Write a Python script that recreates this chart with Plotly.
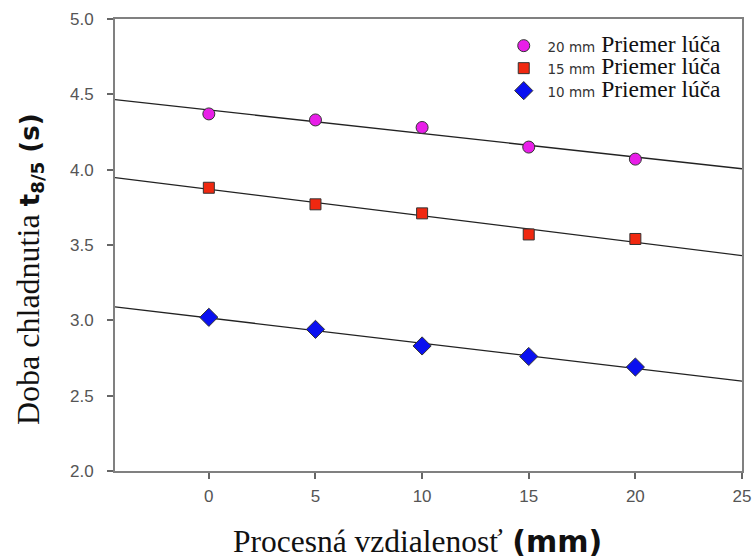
import numpy as np
import plotly.graph_objects as go

x = [0, 5, 10, 15, 20]
y_20mm = [4.37, 4.33, 4.28, 4.15, 4.07]
y_15mm = [3.88, 3.77, 3.71, 3.57, 3.54]
y_10mm = [3.02, 2.94, 2.83, 2.76, 2.69]
x_range = [-4.4, 25]
y_range = [2.0, 5.0]
x_ticks = [0, 5, 10, 15, 20, 25]
y_ticks = [2.0, 2.5, 3.0, 3.5, 4.0, 4.5, 5.0]

series = [
    ("20 mm", y_20mm, "circle", "#e81ee8", 12),
    ("15 mm", y_15mm, "square", "#f02810", 11),
    ("10 mm", y_10mm, "diamond", "#0a10f0", 14),
]

fig = go.Figure()
# regression lines
for name, ys, sym, col, sz in series:
    k, b = np.polyfit(x, ys, 1)
    xs = np.array(x_range)
    fig.add_trace(go.Scatter(x=xs, y=k * xs + b, mode="lines",
                             line=dict(color="#222222", width=1.3),
                             showlegend=False, hoverinfo="skip"))
for name, ys, sym, col, sz in series:
    fig.add_trace(go.Scatter(
        x=x, y=ys, mode="markers",
        marker=dict(symbol=sym, color=col, size=sz,
                    line=dict(color="#333333", width=1)),
        name=('&nbsp;<span style="font-family:DejaVu Sans;font-size:13.5px;color:#333">'
              + name + '</span><span style="font-family:Liberation Serif;font-size:23.5px;color:#111">'
              ' Priemer lúča</span>'),
    ))

serif = "Liberation Serif"
fig.update_layout(
    width=753, height=558,
    margin=dict(l=115, r=11, t=19, b=87),
    paper_bgcolor="white", plot_bgcolor="white",
    showlegend=True,
    legend=dict(x=0.62, y=0.977, xanchor="left", yanchor="top",
                font=dict(family=serif, size=15, color="#111"),
                bgcolor="rgba(0,0,0,0)", tracegroupgap=0, itemwidth=30),
    xaxis=dict(range=x_range, tickvals=x_ticks, ticks="outside", ticklen=6,
               tickcolor="#666", tickwidth=1.5, automargin=False,
               ticklabelstandoff=3,
               showline=True, linecolor="#808080", linewidth=2, mirror=True,
               showgrid=False, zeroline=False,
               tickfont=dict(family="Liberation Sans", size=17, color="#555")),
    yaxis=dict(range=y_range, tickvals=y_ticks, tickformat=".1f",
               ticks="outside", ticklen=6, tickcolor="#666", tickwidth=1.5,
               automargin=False, ticklabelstandoff=10,
               showline=True, linecolor="#808080", linewidth=2, mirror=True,
               showgrid=False, zeroline=False,
               tickfont=dict(family="Liberation Sans", size=17, color="#555")),
    font=dict(family="Liberation Sans"),
)

fig.add_annotation(
    xref="paper", yref="paper", x=(417 - 115) / 627, y=-(541 - 471) / 452,
    xanchor="center", yanchor="middle", showarrow=False,
    text=('<span style="font-family:Liberation Serif;font-size:31.5px">Procesná vzdialenosť</span>'
          ' <b>(mm)</b>'),
    font=dict(family="DejaVu Sans", size=30, color="#111"))

fig.add_annotation(
    xref="paper", yref="paper", x=-(115 - 29) / 627, y=(471 - 269) / 452,
    xanchor="center", yanchor="middle", showarrow=False, textangle=-90,
    text=('<span style="font-family:Liberation Serif;font-size:32px">Doba chladnutia</span>'
          ' <b>t<sub>8/5</sub> (s)</b>'),
    font=dict(family="DejaVu Sans", size=26, color="#111"))

fig.write_html("out.html", config={"displayModeBar": False},
               post_script="document.body.style.margin='0';")
